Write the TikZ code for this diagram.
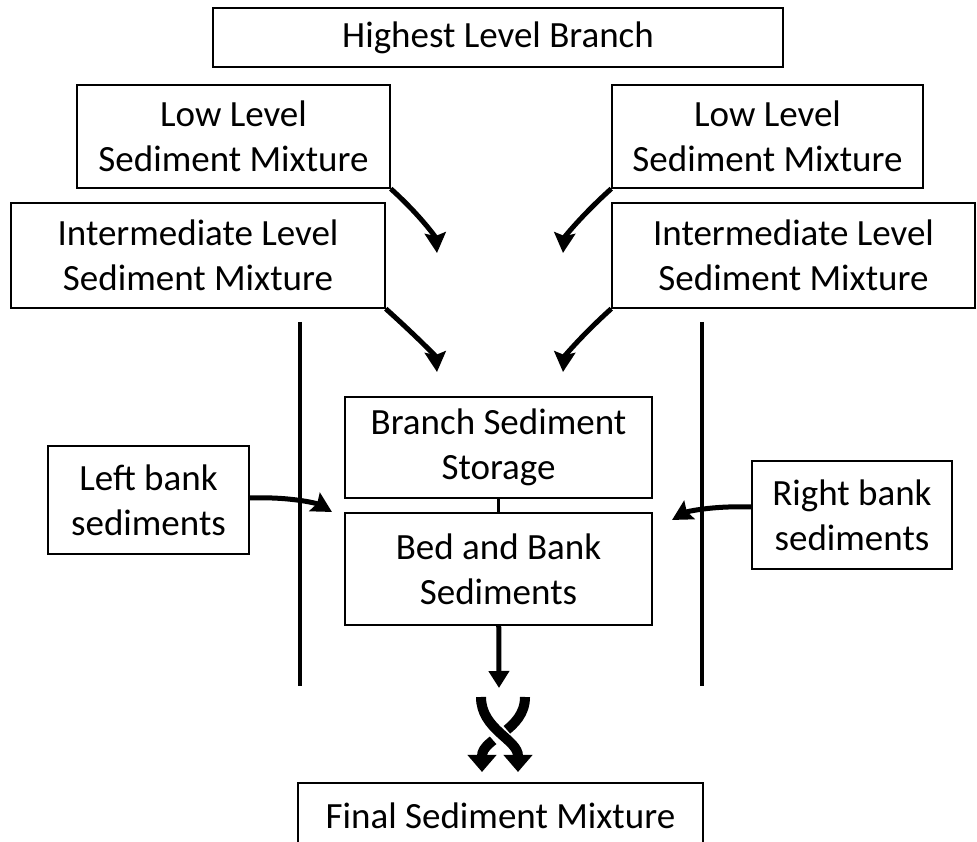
\documentclass[tikz,border=0pt]{standalone}
\usepackage{fontspec}
\setmainfont{Carlito}
\usetikzlibrary{arrows.meta}

\begin{document}
\begin{tikzpicture}[x=1pt,y=1pt,
	box/.style={draw,line width=1.5pt,align=center,inner sep=0pt,font=\fontsize{37}{45}\selectfont},
	feed/.style={line width=5pt,out looseness=1.3,in looseness=.5,-{Stealth[length=20pt,width=21pt,inset=3pt]}},
	strand/.style={line width=10pt,-{Triangle[length=17pt,width=28pt]}}]
			\useasboundingbox (0,0) rectangle (977,842);
			\clip (0,0) rectangle (977,842);
			\node[box,minimum width=570pt,minimum height=59pt] (top) at (498,804.5) {Highest Level Branch};
			\node[box,minimum width=313pt,minimum height=103pt] (lowL) at (233.5,705.5) {Low Level\\Sediment Mixture};
			\node[box,minimum width=311pt,minimum height=103pt] (lowR) at (767.5,705.5) {Low Level\\Sediment Mixture};
			\node[box,minimum width=374pt,minimum height=105pt] (midL) at (198,586.5) {Intermediate Level\\Sediment Mixture};
			\node[box,minimum width=363pt,minimum height=105pt] (midR) at (793.5,586.5) {Intermediate Level\\Sediment Mixture};
			\node[box,minimum width=307pt,minimum height=101pt] (store) at (498.5,394.5) {Branch Sediment\\Storage};
			\node[box,minimum width=307pt,minimum height=112pt] (bed) at (498.5,273) {Bed and Bank\\Sediments};
			\node[box,minimum width=201pt,minimum height=108pt] (leftbank) at (148.5,342) {Left bank\\sediments};
			\node[box,minimum width=200pt,minimum height=108pt] (rightbank) at (852,327) {Right bank\\sediments};
			\node[box,minimum width=405pt,minimum height=66pt] (final) at (500.5,26) {Final Sediment Mixture};
			% channel banks
			\draw[line width=4pt] (300,520)--(300,156) (702,520)--(702,156);
			\path 
			(437,589) coordinate (lowLtip)
			(563,589) coordinate (lowRtip)
			(437,470) coordinate (midLtip)
			(563,470) coordinate (midRtip)
			(332,330) coordinate (leftbanktip)
			(672,322) coordinate (rightbanktip)
			(499,154) coordinate (bedtip)
			(481,145) coordinate (xa)
			(525,145) coordinate (xb)
			(482,70) coordinate (xc)
			(518,70) coordinate (xd);
			\draw[feed] (lowL.south east) to[out=-42,in=95] (lowLtip);
			\draw[feed] (midL.south east) to[out=-42,in=95] (midLtip);
			\draw[feed] (lowR.south west) to[out=-138,in=85] (lowRtip);
			\draw[feed] (midR.south west) to[out=-138,in=85] (midRtip);
			\draw[feed] ([yshift=2pt]leftbank.east) to[out=2,in=150] (leftbanktip);
			\draw[feed] ([yshift=8pt]rightbank.west) to[out=178,in=30] (rightbanktip);
			\draw[line width=3pt] (store)--(bed);
			\draw[line width=5pt,-{Triangle[length=17pt,width=20pt]}] (bed)--(bedtip);
			% mixing
			\draw[strand] (xb) to[out=-90,in=90] (xc);
			\draw[white,line width=17pt] (xa) to[out=-90,in=90] (xd);
			\draw[strand] (xa) to[out=-90,in=90] (xd);
	\end{tikzpicture}
\end{document}
